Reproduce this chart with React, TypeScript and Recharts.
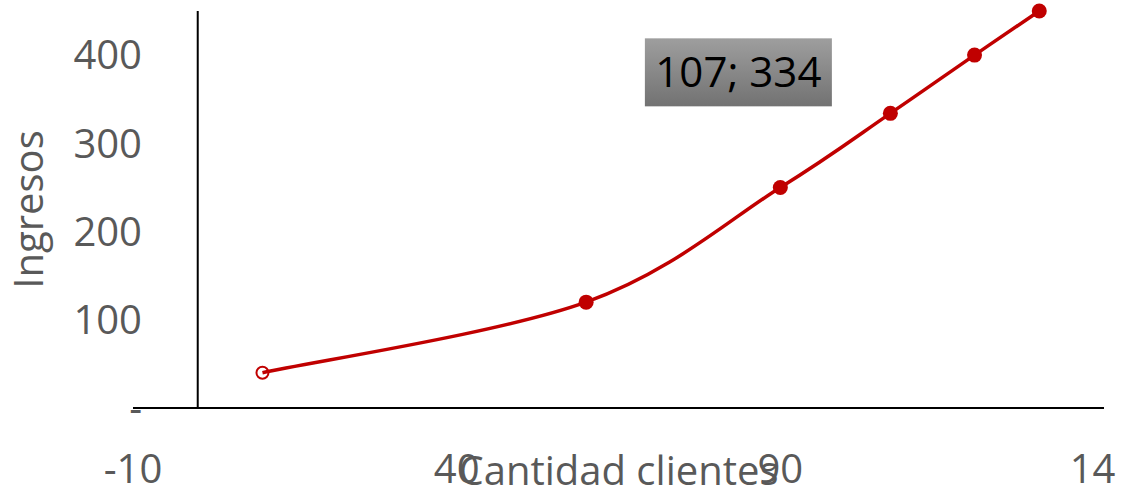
import { LineChart, Line, XAxis, YAxis, ReferenceLine, LabelList } from 'recharts';

// Cantidad clientes vs Ingresos
const clientes = [10, 60, 90, 107, 120, 130];
const ingresos = [40, 120, 250, 334, 400, 450];
const xTicks = [-10, 40, 90, 140];
const yTicks = [0, 100, 200, 300, 400];
const labelIndex = 3; // the point with the "107; 334" callout

const data = clientes.map((x, i) => ({ x, y: ingresos[i] }));

const FONT = '"Open Sans", "Noto Sans", sans-serif';
const RED = '#C00000';
const GRAY = '#595959';

// Excel-style smoothed line (Catmull-Rom like bezier between the points)
const excelSmooth = (context: any) => {
  let pts: [number, number][] = [];
  return {
    areaStart() {},
    areaEnd() {},
    lineStart() {
      pts = [];
    },
    point(x: number, y: number) {
      pts.push([+x, +y]);
    },
    lineEnd() {
      if (!pts.length) return;
      context.moveTo(pts[0][0], pts[0][1]);
      for (let i = 0; i < pts.length - 1; i++) {
        const p0 = pts[i - 1] || pts[i];
        const p1 = pts[i];
        const p2 = pts[i + 1];
        const p3 = pts[i + 2] || p2;
        context.bezierCurveTo(
          p1[0] + (p2[0] - p0[0]) / 6,
          p1[1] + (p2[1] - p0[1]) / 6,
          p2[0] - (p3[0] - p1[0]) / 6,
          p2[1] - (p3[1] - p1[1]) / 6,
          p2[0],
          p2[1]
        );
      }
    },
  };
};

const renderDot = (props: any) => {
  const { cx, cy, index } = props;
  if (index === 0) {
    // first marker is hollow
    return <circle key={`dot-${index}`} cx={cx} cy={cy} r={6} fill="none" stroke={RED} strokeWidth={2} />;
  }
  return <circle key={`dot-${index}`} cx={cx} cy={cy} r={7.5} fill={RED} />;
};

const XTick = (props: any) => {
  const { x, y, payload } = props;
  return (
    <text x={x} y={y} dy="0.71em" textAnchor="middle" fill={GRAY} fontSize={40} fontFamily={FONT}>
      {payload.value}
    </text>
  );
};

const PointLabel = (props: any) => {
  const { x, y, index, value } = props;
  if (index !== labelIndex) return null;
  const w = 187;
  const h = 68;
  const cx = x - 152;
  const cy = y - 41;
  return (
    <g>
      <rect x={cx - w / 2} y={cy - h / 2} width={w} height={h} fill="url(#lblGrad)" />
      <text x={cx} y={cy + 15} textAnchor="middle" fontSize={42} fill="#000" fontFamily={FONT}>
        {`${clientes[index]}; ${value}`}
      </text>
    </g>
  );
};

export default function App() {
  return (
    <div style={{ position: 'absolute', left: 0, top: 0, width: 1123, height: 494, background: '#fff' }}>
      <div style={{ width: 1116, height: 494, overflow: 'hidden' }}>
        <LineChart width={1123} height={494} data={data} margin={{ top: 11, right: 19, bottom: 0, left: 0 }}>
          <defs>
            <linearGradient id="lblGrad" x1="0" y1="0" x2="0" y2="1">
              <stop offset="0%" stopColor="#9e9e9e" />
              <stop offset="100%" stopColor="#727272" />
            </linearGradient>
          </defs>
          <XAxis
            type="number"
            dataKey="x"
            domain={[-10, 140]}
            ticks={xTicks}
            height={86}
            axisLine={{ stroke: '#000', strokeWidth: 2 }}
            tickLine={false}
            tickMargin={41}
            tick={<XTick />}
            label={{ value: 'Cantidad clientes', position: 'insideBottom', offset: 9, fill: GRAY, fontSize: 40, fontFamily: FONT }}
          />
          <YAxis
            type="number"
            domain={[0, 450]}
            ticks={yTicks}
            width={133}
            axisLine={false}
            tickLine={false}
            tick={{ fill: GRAY, fontSize: 40, fontFamily: FONT, dx: 17 }}
            tickFormatter={(v: number) => (v === 0 ? '-' : String(v))}
            label={{
              value: 'Ingresos',
              angle: -90,
              position: 'insideLeft',
              offset: 29,
              style: { textAnchor: 'middle' },
              fill: GRAY,
              fontSize: 40,
              fontFamily: FONT,
            }}
          />
          <ReferenceLine x={0} stroke="#000" strokeWidth={2} />
          <Line
            type={excelSmooth as any}
            dataKey="y"
            stroke={RED}
            strokeWidth={3.5}
            dot={renderDot}
            activeDot={false}
            isAnimationActive={false}
          >
            <LabelList dataKey="y" content={<PointLabel />} />
          </Line>
        </LineChart>
      </div>
    </div>
  );
}
